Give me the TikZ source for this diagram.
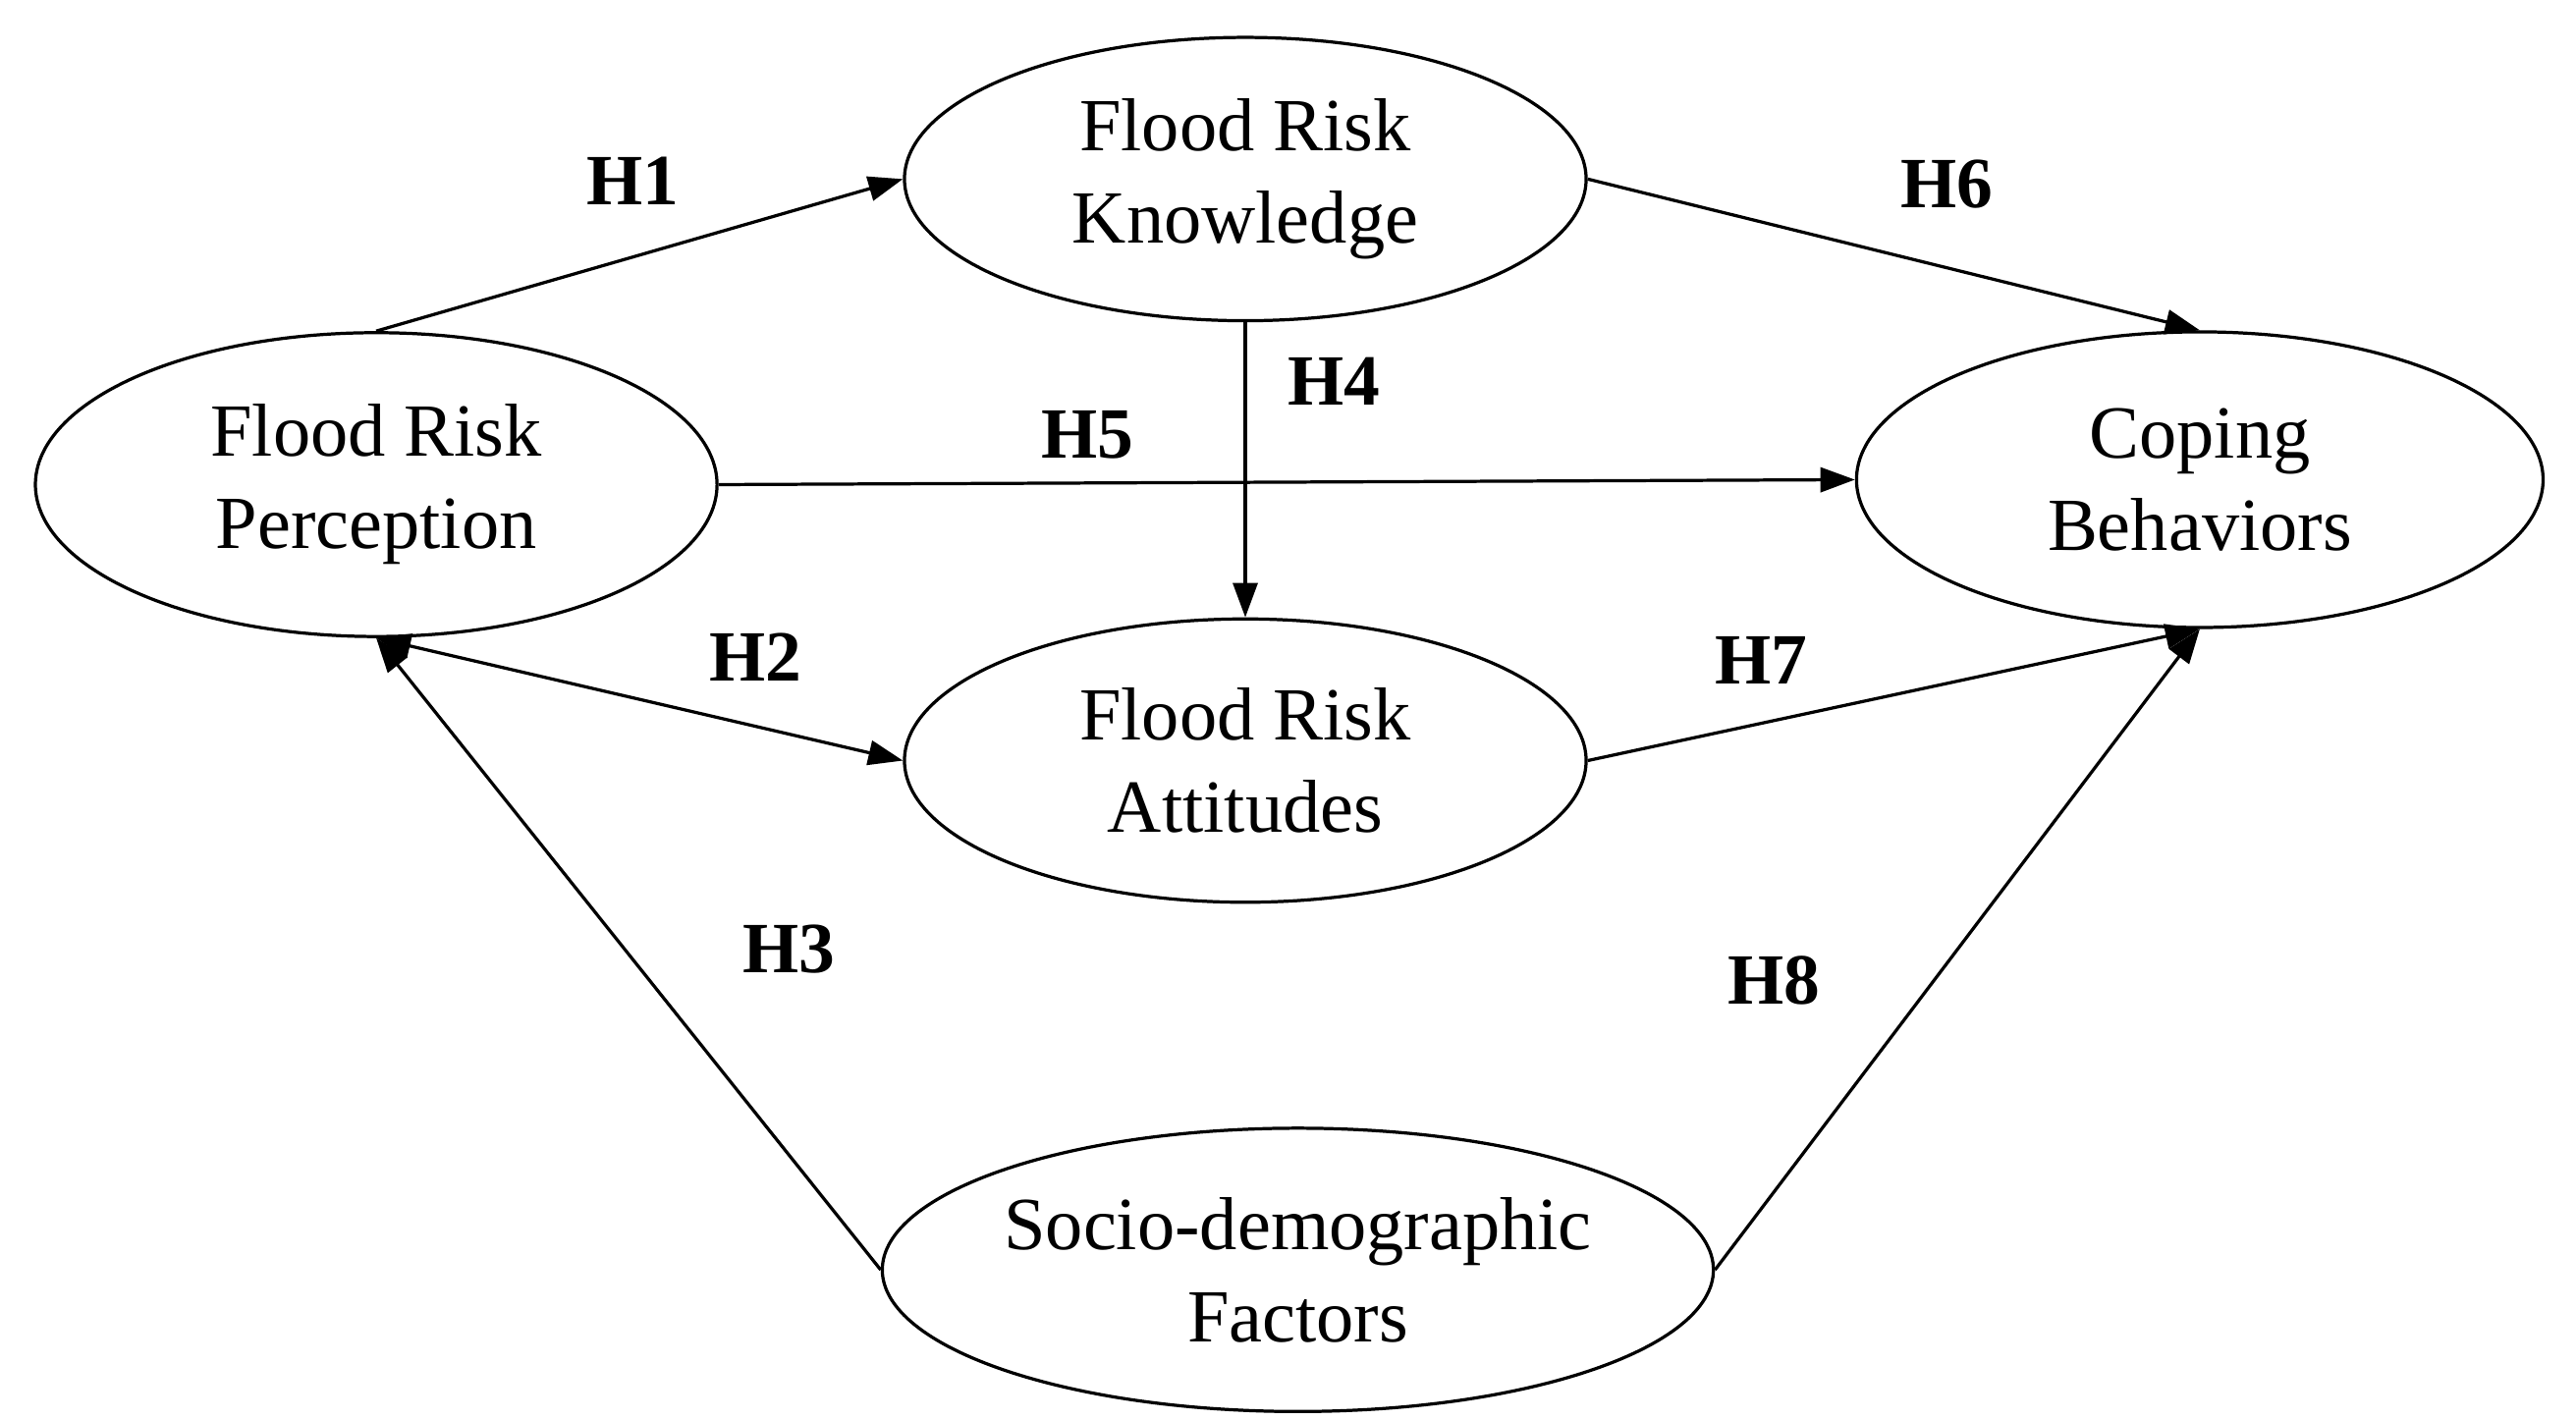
\documentclass[tikz,border=0pt]{standalone}
\usepackage{fontspec}
\setmainfont{Liberation Serif}
\usetikzlibrary{shapes.geometric,arrows.meta}
\begin{document}
\begin{tikzpicture}[x=0.02cm,y=-0.02cm,
  ell/.style={draw,ellipse,line width=1.1pt,minimum width=8.3cm,minimum height=3.45cm,inner sep=0pt,align=center,font=\fontsize{26}{32}\selectfont},
  arr/.style={line width=1.1pt,-{Triangle[length=0.42cm,width=0.3cm]}},
  lab/.style={font=\bfseries\fontsize{25}{30}\selectfont}]
\useasboundingbox (0,0) rectangle (1568,864);
\node[ell,minimum height=3.7cm] (per) at (229,295) {Flood Risk\\Perception};
\node[ell] (kno) at (758,109) {Flood Risk\\Knowledge};
\node[ell] (att) at (758,463) {Flood Risk\\Attitudes};
\node[ell,minimum width=8.36cm,minimum height=3.6cm] (cop) at (1339,292) {Coping\\Behaviors};
\node[ell] (soc) at (790,773) {Socio-demographic\\Factors};
\draw[arr] (per.north) -- (kno.west);
\draw[arr,{Triangle[length=0.42cm,width=0.3cm]}-{Triangle[length=0.42cm,width=0.3cm]}] (per.south) -- (att.west);
\draw[arr] (soc.west) -- (per.south);
\draw[arr] (kno.south) -- (att.north);
\draw[arr] (per.east) -- (cop.west);
\draw[arr] (kno.east) -- (cop.north);
\draw[arr] (att.east) -- (cop.south);
\draw[arr] (soc.east) -- (cop.south);
\node[lab] (h1) at (385,110) {H1};
\node[lab] (h2) at (460,400) {H2};
\node[lab] (h3) at (480,578) {H3};
\node[lab] (h4) at (812,232) {H4};
\node[lab] (h5) at (662,265) {H5};
\node[lab] (h6) at (1185,112) {H6};
\node[lab] (h7) at (1072,402) {H7};
\node[lab] (h8) at (1080,597) {H8};
\end{tikzpicture}
\end{document}
